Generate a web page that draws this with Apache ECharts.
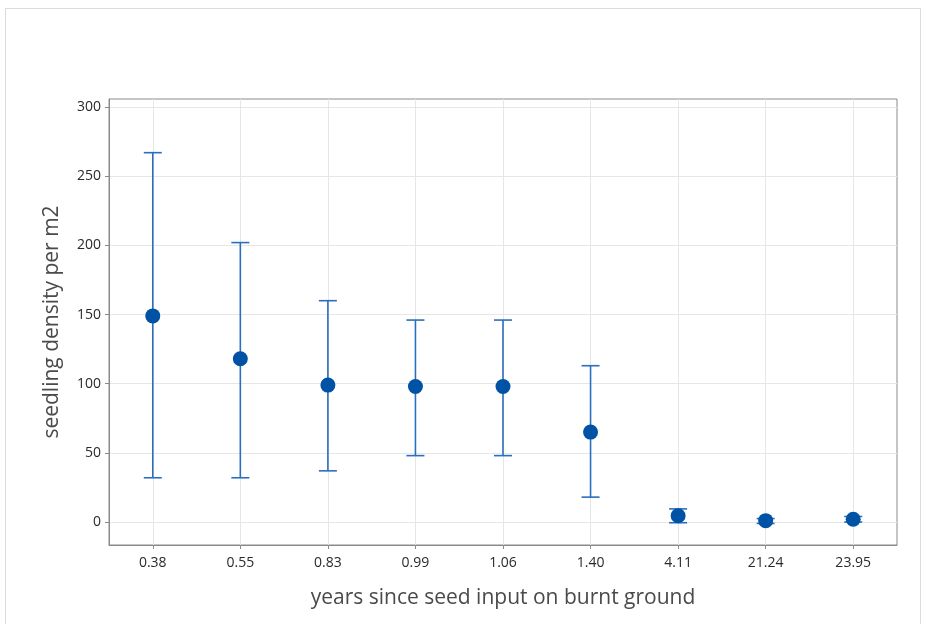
<!DOCTYPE html>
<html>
<head>
<meta charset="utf-8">
<script src="https://cdn.jsdelivr.net/npm/echarts@6/dist/echarts.min.js"></script>
<style>
  html, body { margin: 0; padding: 0; background: #fff; }
  #frame { position: absolute; left: 5px; top: 8px; width: 916px; height: 640px; border: 1px solid #dcdcdc; box-sizing: border-box; }
  #chart { position: absolute; left: 0; top: 0; width: 928px; height: 624px; }
</style>
</head>
<body>
<div id="frame"></div>
<div id="chart"></div>
<script>
// Years since seed input (category labels along x)
const years = ['0.38', '0.55', '0.83', '0.99', '1.06', '1.40', '4.11', '21.24', '23.95'];
// Mean seedling density per m2
const meanDensity = [149, 118, 99, 98, 98, 65, 4.5, 1, 2];
// Error bar bounds
const lowerBound = [32, 32, 37, 48, 48, 18, -0.5, -1, 0];
const upperBound = [267, 202, 160, 146, 146, 113, 9.5, 2.5, 4];
// Y axis tick values
const yTicks = [0, 50, 100, 150, 200, 250, 300];

const xIdx = years.map((_, i) => i);
const fontFam = '"Open Sans", "Noto Sans", sans-serif';

const chart = echarts.init(document.getElementById('chart'), null, { renderer: 'canvas' });

chart.setOption({
  animation: false,
  grid: { left: 109, right: 31, top: 99, bottom: 79, show: true, borderColor: '#8a8a8a', borderWidth: 1 },
  xAxis: {
    type: 'value',
    min: -0.5,
    max: 8.5,
    name: 'years since seed input on burnt ground',
    nameLocation: 'middle',
    nameGap: 43,
    nameTextStyle: { fontSize: 21, color: '#4a4a4a', fontFamily: fontFam },
    axisLine: { show: true, onZero: false, lineStyle: { color: '#8a8a8a' } },
    axisTick: { show: true, length: 4, customValues: xIdx, lineStyle: { color: '#8a8a8a' } },
    axisLabel: {
      customValues: xIdx,
      formatter: v => years[Math.round(v)],
      fontSize: 14, color: '#2a2a2a', fontFamily: fontFam, margin: 11
    },
    splitLine: { show: true, lineStyle: { color: '#e6e6e6', width: 1 } }
  },
  yAxis: {
    type: 'value',
    min: -16.6,
    max: 305.8,
    name: 'seedling density per m2',
    nameLocation: 'middle',
    nameGap: 46,
    nameTextStyle: { fontSize: 21, color: '#4a4a4a', fontFamily: fontFam },
    axisLine: { show: true, onZero: false, lineStyle: { color: '#8a8a8a' } },
    axisTick: { show: true, length: 4, customValues: yTicks, lineStyle: { color: '#8a8a8a' } },
    axisLabel: { customValues: yTicks, fontSize: 14, color: '#2a2a2a', fontFamily: fontFam, margin: 8 },
    splitLine: { show: true, lineStyle: { color: '#e6e6e6', width: 1 } }
  },
  series: [
    {
      type: 'custom',
      data: xIdx.map(i => [i, lowerBound[i], upperBound[i]]),
      renderItem: function (params, api) {
        const x = api.value(0);
        const lo = api.coord([x, api.value(1)]);
        const hi = api.coord([x, api.value(2)]);
        const half = 9;
        const style = { stroke: '#2a6fbf', lineWidth: 1.6, fill: null };
        return {
          type: 'group',
          children: [
            { type: 'line', shape: { x1: lo[0], y1: lo[1], x2: hi[0], y2: hi[1] }, style: style },
            { type: 'line', shape: { x1: hi[0] - half, y1: hi[1], x2: hi[0] + half, y2: hi[1] }, style: style },
            { type: 'line', shape: { x1: lo[0] - half, y1: lo[1], x2: lo[0] + half, y2: lo[1] }, style: style }
          ]
        };
      },
      z: 2
    },
    {
      type: 'scatter',
      data: xIdx.map(i => [i, meanDensity[i]]),
      symbol: 'circle',
      symbolSize: 15,
      itemStyle: { color: '#0052a5', opacity: 1 },
      z: 3
    }
  ]
});
</script>
</body>
</html>
